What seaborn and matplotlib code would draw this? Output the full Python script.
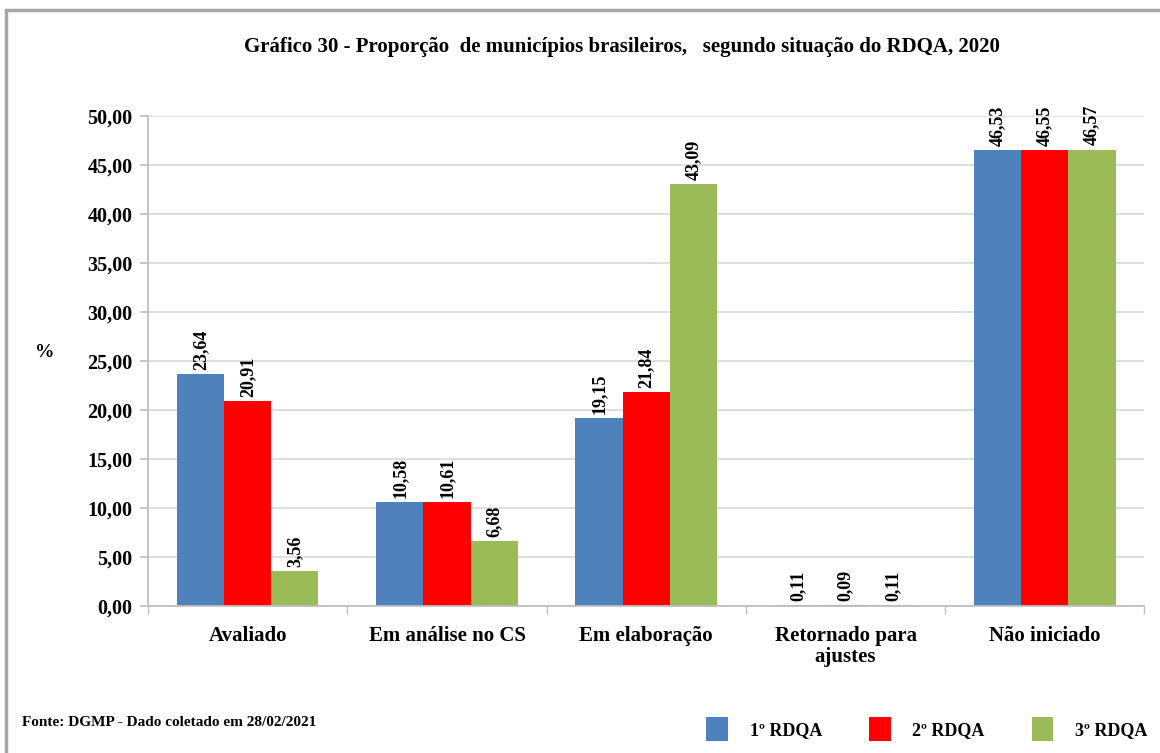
import pandas as pd
import matplotlib
matplotlib.use("Agg")
import matplotlib.pyplot as plt
from matplotlib.patches import Rectangle, Patch
from matplotlib.ticker import FuncFormatter, FixedLocator
import seaborn as sns

# dados
categorias = ["Avaliado", "Em análise no CS", "Em elaboração", "Retornado para\najustes", "Não iniciado"]
series = ["1º RDQA", "2º RDQA", "3º RDQA"]
rdqa1 = [23.64, 10.58, 19.15, 0.11, 46.53]
rdqa2 = [20.91, 10.61, 21.84, 0.09, 46.55]
rdqa3 = [3.56, 6.68, 43.09, 0.11, 46.57]
cores = ["#4F81BD", "#FF0000", "#9BBB59"]

df = pd.DataFrame({
    "categoria": categorias * 3,
    "serie": [s for s in series for _ in categorias],
    "valor": rdqa1 + rdqa2 + rdqa3,
})

sns.set_theme(style="white")
plt.rcParams["font.family"] = ["Liberation Serif", "DejaVu Serif"]
plt.rcParams["font.weight"] = "bold"
plt.rcParams["text.color"] = "black"
plt.rcParams["xtick.color"] = "black"
plt.rcParams["ytick.color"] = "black"

fig = plt.figure(figsize=(11.6, 7.53), dpi=100)
ax = fig.add_axes([0.1276, 0.195, 0.859, 0.651])

sns.barplot(data=df, x="categoria", y="valor", hue="serie", palette=cores,
            width=0.71, ax=ax, legend=False, saturation=1, edgecolor="none", linewidth=0)

for cont in ax.containers:
    ax.bar_label(cont, labels=[f"{v:.2f}".replace(".", ",") for v in cont.datavalues],
                 rotation=90, padding=3, fontsize=13, fontweight="bold", color="black")

ax.set_ylim(0, 50)
ax.set_xlim(-0.5, 4.5)
ax.set_yticks(range(0, 51, 5))
ax.yaxis.set_major_formatter(FuncFormatter(lambda v, p: f"{v:.2f}".replace(".", ",")))
ax.grid(axis="y", color="#d9d9d9", linewidth=1.2)
ax.set_axisbelow(True)
for s in ["top", "right"]:
    ax.spines[s].set_visible(False)
for s in ["left", "bottom"]:
    ax.spines[s].set_color("#bfbfbf")
    ax.spines[s].set_linewidth(1.3)
ax.tick_params(axis="y", which="major", left=True, length=6, color="#bfbfbf",
               labelcolor="black", labelsize=14.5, pad=5)
ax.tick_params(axis="x", which="major", bottom=False, labelcolor="black", labelsize=15, pad=8)
ax.xaxis.set_minor_locator(FixedLocator([-0.5, 0.5, 1.5, 2.5, 3.5, 4.5]))
ax.tick_params(axis="x", which="minor", bottom=True, length=6, color="#bfbfbf")
for lab in ax.get_xticklabels() + ax.get_yticklabels():
    lab.set_fontweight("bold")
    lab.set_linespacing(1.1)
ax.set_xlabel("")
ax.set_ylabel("")

fig.text(0.039, 0.532, "%", fontsize=14, fontweight="bold", ha="center", va="center")
fig.text(0.536, 0.937, "Gráfico 30 - Proporção  de municípios brasileiros,   segundo situação do RDQA, 2020",
         fontsize=15, fontweight="bold", ha="center", va="center")
fig.text(0.019, 0.041, "Fonte: DGMP - Dado coletado em 28/02/2021",
         fontsize=11, fontweight="bold", ha="left", va="center")

handles = [Patch(facecolor=c, edgecolor="none") for c in cores]
fig.legend(handles, series, loc="center right", bbox_to_anchor=(1.003, 0.032), ncol=3,
           frameon=False, handlelength=1.2, handleheight=1.6,
           columnspacing=2.6, handletextpad=1.2, prop={"weight": "bold", "size": 13})

# moldura cinza
fig.patches.append(Rectangle((0.005, -0.05), 1.1, 1.037, transform=fig.transFigure,
                             fill=False, edgecolor="#a6a6a6", linewidth=2.5))

fig.savefig("out.png", dpi=100)
